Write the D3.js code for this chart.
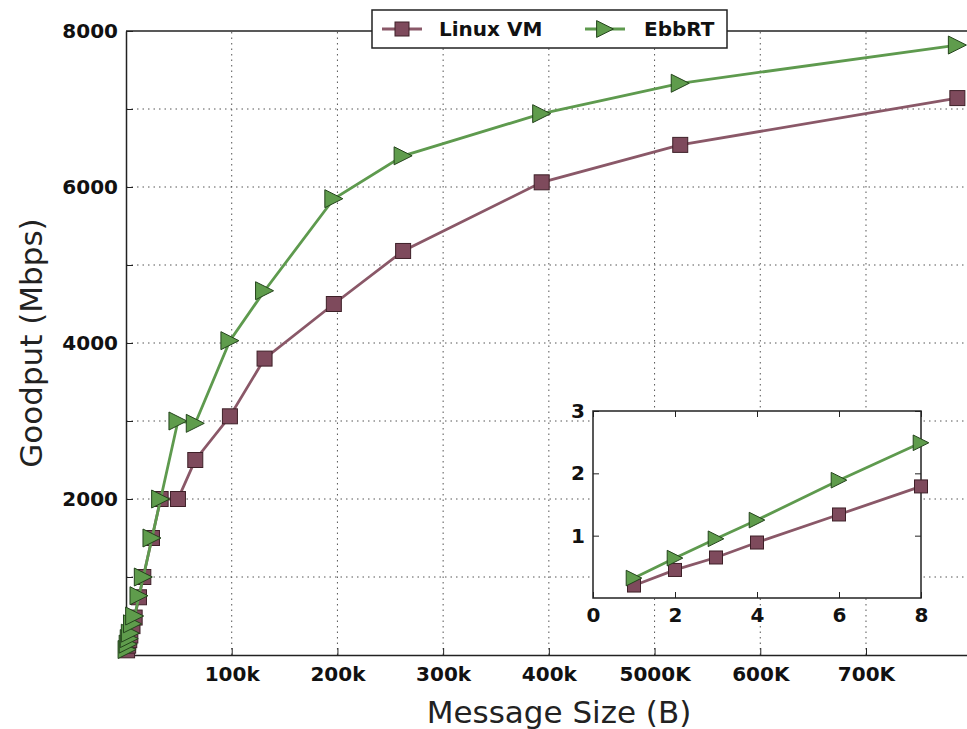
<!DOCTYPE html>
<html>
<head>
<meta charset="utf-8">
<script src="https://cdn.jsdelivr.net/npm/d3@7"></script>
<style>
  body { margin: 0; background: #fff; }
  svg { display: block; font-family: "DejaVu Sans", sans-serif; }
  .tick text { font-family: "DejaVu Sans", sans-serif; font-weight: bold; font-size: 20px; fill: #111; }
</style>
</head>
<body>
<div id="chart"></div>
<script>
// message sizes in bytes
const sizes = [1024, 2048, 3072, 4096, 6144, 8192, 12288, 16384, 24576, 32768,
    49152, 65536, 98304, 131072, 196608, 262144, 393216, 524288, 786432];
const linuxVM = [60, 120, 190, 250, 370, 480, 740, 1000, 1500, 2000,
    2000, 2500, 3060, 3800, 4500, 5180, 6060, 6540, 7140];
const ebbrt = [70, 140, 210, 280, 400, 500, 760, 1000, 1500, 2000,
    3000, 2970, 4030, 4670, 5850, 6400, 6940, 7330, 7820];

// inset
const insetX = [1, 2, 3, 4, 6, 8];
const insetLinux = [0.2, 0.45, 0.65, 0.89, 1.34, 1.79];
const insetEbbrt = [0.32, 0.64, 0.95, 1.25, 1.89, 2.49];

const xTicks = [100000, 200000, 300000, 400000, 500000, 600000, 700000];
const xTickLabels = ['100k', '200k', '300k', '400k', '5000K', '600K', '700K'];
const yTicks = [1000, 2000, 3000, 4000, 5000, 6000, 7000, 8000];

const series = [
    { name: 'Linux VM', main: linuxVM, inset: insetLinux, color: '#8a5868', fill: '#7e4a5c', edge: '#3e2028', marker: 'square' },
    { name: 'EbbRT', main: ebbrt, inset: insetEbbrt, color: '#5e9a4e', fill: '#5f9c4c', edge: '#24441c', marker: 'triangle' }
];

const width = 967, height = 729;
const margin = { top: 31, right: -25, bottom: 74, left: 126 };

const svg = d3.select('#chart').append('svg')
    .attr('width', width)
    .attr('height', height);

const x = d3.scaleLinear().domain([0, 819200]).range([margin.left, width - margin.right]);
const y = d3.scaleLinear().domain([0, 8000]).range([height - margin.bottom, margin.top]);

const plot = svg.append('g');

// grid
plot.append('g')
    .selectAll('line.gx')
    .data(xTicks)
    .join('line')
    .attr('x1', d => x(d)).attr('x2', d => x(d))
    .attr('y1', y(0)).attr('y2', y(8000))
    .attr('stroke', '#555').attr('stroke-width', 1).attr('stroke-dasharray', '1.5,4');
plot.append('g')
    .selectAll('line.gy')
    .data(yTicks.slice(0, -1))
    .join('line')
    .attr('x1', x(0)).attr('x2', x(819200))
    .attr('y1', d => y(d)).attr('y2', d => y(d))
    .attr('stroke', '#555').attr('stroke-width', 1).attr('stroke-dasharray', '1.5,4');

// axes
const xAxis = d3.axisBottom(x).tickValues(xTicks)
    .tickFormat((d, i) => xTickLabels[i]).tickSizeInner(-7).tickSizeOuter(0).tickPadding(12);
const yAxis = d3.axisLeft(y).tickValues(yTicks)
    .tickFormat(d => d % 2000 === 0 ? d : '').tickSizeInner(-7).tickSizeOuter(0).tickPadding(8);

const gx = plot.append('g').attr('transform', `translate(0,${y(0)})`).call(xAxis);
const gy = plot.append('g').attr('transform', `translate(${x(0)},0)`).call(yAxis);
plot.append('line').attr('x1', x(0)).attr('x2', x(819200)).attr('y1', y(8000)).attr('y2', y(8000))
    .attr('stroke', '#222').attr('stroke-width', 1.5);
[gx, gy].forEach(g => {
    g.select('.domain').attr('stroke', '#222').attr('stroke-width', 1.5);
    g.selectAll('.tick line').attr('stroke', '#222').attr('stroke-width', 1);
});

// markers
function drawMarker(sel, s, size) {
    if (s.marker === 'square') {
        sel.append('rect')
            .attr('x', -size / 2).attr('y', -size / 2)
            .attr('width', size).attr('height', size);
    } else {
        const h = size * 0.6;
        sel.append('path').attr('d', `M${-h},${-h} L${h},0 L${-h},${h} Z`);
    }
    sel.attr('fill', s.fill).attr('stroke', s.edge).attr('stroke-width', 1);
}

function drawSeries(g, xs, ys, vals, s, msize) {
    const line = d3.line().x((d, i) => xs(vals.x[i])).y(d => ys(d));
    g.append('path').datum(vals.y)
        .attr('d', line)
        .attr('fill', 'none').attr('stroke', s.color).attr('stroke-width', 2.8);
    g.selectAll('g.m').data(vals.y).join('g')
        .attr('transform', (d, i) => `translate(${xs(vals.x[i])},${ys(d)})`)
        .each(function () { drawMarker(d3.select(this), s, msize); });
}

series.forEach(s => drawSeries(plot.append('g'), x, y, { x: sizes, y: s.main }, s, 15));

// axis labels
svg.append('text')
    .attr('x', 559).attr('y', 723)
    .attr('text-anchor', 'middle')
    .attr('font-size', 31).attr('fill', '#222')
    .text('Message Size (B)');
svg.append('text')
    .attr('transform', `translate(42,${(y(0) + y(8000)) / 2}) rotate(-90)`)
    .attr('text-anchor', 'middle')
    .attr('font-size', 31).attr('fill', '#222')
    .text('Goodput (Mbps)');

// inset
const ix = d3.scaleLinear().domain([0, 8]).range([593, 921]);
const iy = d3.scaleLinear().domain([0, 3]).range([598, 411]);
const inset = svg.append('g');
inset.append('rect')
    .attr('x', ix(0)).attr('y', iy(3))
    .attr('width', ix(8) - ix(0)).attr('height', iy(0) - iy(3))
    .attr('fill', '#fff').attr('stroke', '#222').attr('stroke-width', 1.5);

const ixTicks = [0, 2, 4, 6, 8];
const iyTicks = [1, 2, 3];
const ixAxis = d3.axisBottom(ix).tickValues(ixTicks).tickFormat(d3.format('d'))
    .tickSizeInner(-6).tickSizeOuter(0).tickPadding(10);
const iyAxis = d3.axisLeft(iy).tickValues(iyTicks).tickFormat(d3.format('d'))
    .tickSizeInner(-6).tickSizeOuter(0).tickPadding(8);
const igx = inset.append('g').attr('transform', `translate(0,${iy(0)})`).call(ixAxis);
const igy = inset.append('g').attr('transform', `translate(${ix(0)},0)`).call(iyAxis);
const igxTop = inset.append('g').attr('transform', `translate(0,${iy(3)})`)
    .call(d3.axisTop(ix).tickValues(ixTicks).tickSizeInner(-6).tickSizeOuter(0).tickFormat(''));
const igyRight = inset.append('g').attr('transform', `translate(${ix(8)},0)`)
    .call(d3.axisRight(iy).tickValues(iyTicks).tickSizeInner(-6).tickSizeOuter(0).tickFormat(''));
[igx, igy, igxTop, igyRight].forEach(g => {
    g.select('.domain').attr('stroke', 'none');
    g.selectAll('.tick line').attr('stroke', '#222');
});

series.forEach(s => drawSeries(inset.append('g'), ix, iy, { x: insetX, y: s.inset }, s, 13));

// legend
const legend = svg.append('g').attr('transform', 'translate(372,10)');
legend.append('rect')
    .attr('width', 355).attr('height', 38)
    .attr('fill', '#fff').attr('stroke', '#222').attr('stroke-width', 1.5);
const items = [{ s: series[0], x0: 10, tx: 67 }, { s: series[1], x0: 213, tx: 272 }];
items.forEach(it => {
    const g = legend.append('g');
    g.append('line').attr('x1', it.x0).attr('x2', it.x0 + 40).attr('y1', 19).attr('y2', 19)
        .attr('stroke', it.s.color).attr('stroke-width', 2.8);
    const m = g.append('g').attr('transform', `translate(${it.x0 + 20},19)`);
    drawMarker(m, it.s, 14);
    g.append('text').attr('x', it.tx).attr('y', 26)
        .attr('font-size', 20).attr('font-weight', 'bold').attr('fill', '#111')
        .text(it.s.name);
});
</script>
</body>
</html>
